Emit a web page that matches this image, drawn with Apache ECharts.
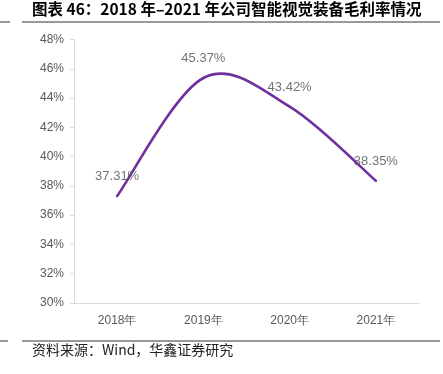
<!DOCTYPE html>
<html><head><meta charset="utf-8">
<script src="https://cdn.jsdelivr.net/npm/echarts@6/dist/echarts.min.js"></script>
<style>html,body{margin:0;padding:0;background:#fff}#c{width:443px;height:374px}</style>
</head><body><div id="c"></div>
<script>
const categories = ['2018年', '2019年', '2020年', '2021年'];
const grossMargin = [37.31, 45.37, 43.42, 38.35];
const yTicks = { min: 30, max: 48, interval: 2 };
const titleText = '图表 46：2018 年–2021 年公司智能视觉装备毛利率情况';
const sourceText = '资料来源：Wind，华鑫证券研究';

const LINE_COLOR = '#7030A0';

// Excel-style (Catmull-Rom) smoothed segment from point i to i+1, positioned via the chart's scales
function renderSegment(params, api) {
  const i = params.dataIndex;
  const n = grossMargin.length;
  if (i >= n - 1) return null;
  const pt = j => {
    const k = Math.max(0, Math.min(n - 1, j));
    return api.coord([k, grossMargin[k]]);
  };
  const p0 = pt(i - 1), p1 = pt(i), p2 = pt(i + 1), p3 = pt(i + 2);
  const t = 1 / 6;
  return {
    type: 'bezierCurve',
    shape: {
      x1: p1[0], y1: p1[1], x2: p2[0], y2: p2[1],
      cpx1: p1[0] + (p2[0] - p0[0]) * t, cpy1: p1[1] + (p2[1] - p0[1]) * t,
      cpx2: p2[0] - (p3[0] - p1[0]) * t, cpy2: p2[1] - (p3[1] - p1[1]) * t
    },
    style: { stroke: LINE_COLOR, lineWidth: 2.6, fill: null, lineCap: 'round' }
  };
}

const chart = echarts.init(document.getElementById('c'), null, { renderer: 'canvas' });
chart.setOption({
  animation: false,
  backgroundColor: '#fff',
  grid: { left: 74, right: 24, top: 39.5, bottom: 71 },
  graphic: [
    { type: 'text', left: 32, top: 1, style: { text: titleText, font: 'bold 15.5px "Noto Sans CJK SC"', fill: '#000' } },
    { type: 'line', shape: { x1: 0, y1: 22, x2: 10, y2: 22 }, style: { stroke: '#333', lineWidth: 1 } },
    { type: 'line', shape: { x1: 22, y1: 22, x2: 440, y2: 22 }, style: { stroke: '#333', lineWidth: 1 } },
    { type: 'line', shape: { x1: 0, y1: 341, x2: 8, y2: 341 }, style: { stroke: '#333', lineWidth: 1 } },
    { type: 'line', shape: { x1: 22, y1: 341, x2: 440, y2: 341 }, style: { stroke: '#333', lineWidth: 1 } },
    { type: 'text', left: 32, top: 343, style: { text: sourceText, font: '14px "Noto Sans CJK SC"', fill: '#222' } }
  ],
  xAxis: {
    type: 'category',
    data: categories,
    boundaryGap: true,
    axisLine: { lineStyle: { color: '#D9D9D9', width: 1 } },
    axisTick: { show: false },
    axisLabel: { color: '#595959', fontSize: 12, fontFamily: 'Liberation Sans', margin: 12 }
  },
  yAxis: {
    type: 'value',
    min: yTicks.min, max: yTicks.max, interval: yTicks.interval,
    axisLine: { show: true, lineStyle: { color: '#D9D9D9', width: 1 } },
    axisTick: { show: true, length: 4, lineStyle: { color: '#D9D9D9' } },
    splitLine: { show: false },
    axisLabel: { color: '#595959', fontSize: 12, fontFamily: 'Liberation Sans', margin: 10, formatter: v => v + '%' }
  },
  series: [
    {
      type: 'custom',
      data: grossMargin.map((v, i) => [i, v]),
      renderItem: renderSegment,
      clip: false,
      z: 2
    },
    {
      type: 'scatter',
      data: grossMargin,
      symbolSize: 4,
      itemStyle: { color: 'rgba(0,0,0,0)' },
      label: {
        show: true, position: 'top', distance: 11,
        color: '#505050', fontSize: 13, fontFamily: 'Liberation Sans',
        formatter: p => p.value.toFixed(2) + '%'
      },
      z: 3
    }
  ]
});
</script></body></html>
